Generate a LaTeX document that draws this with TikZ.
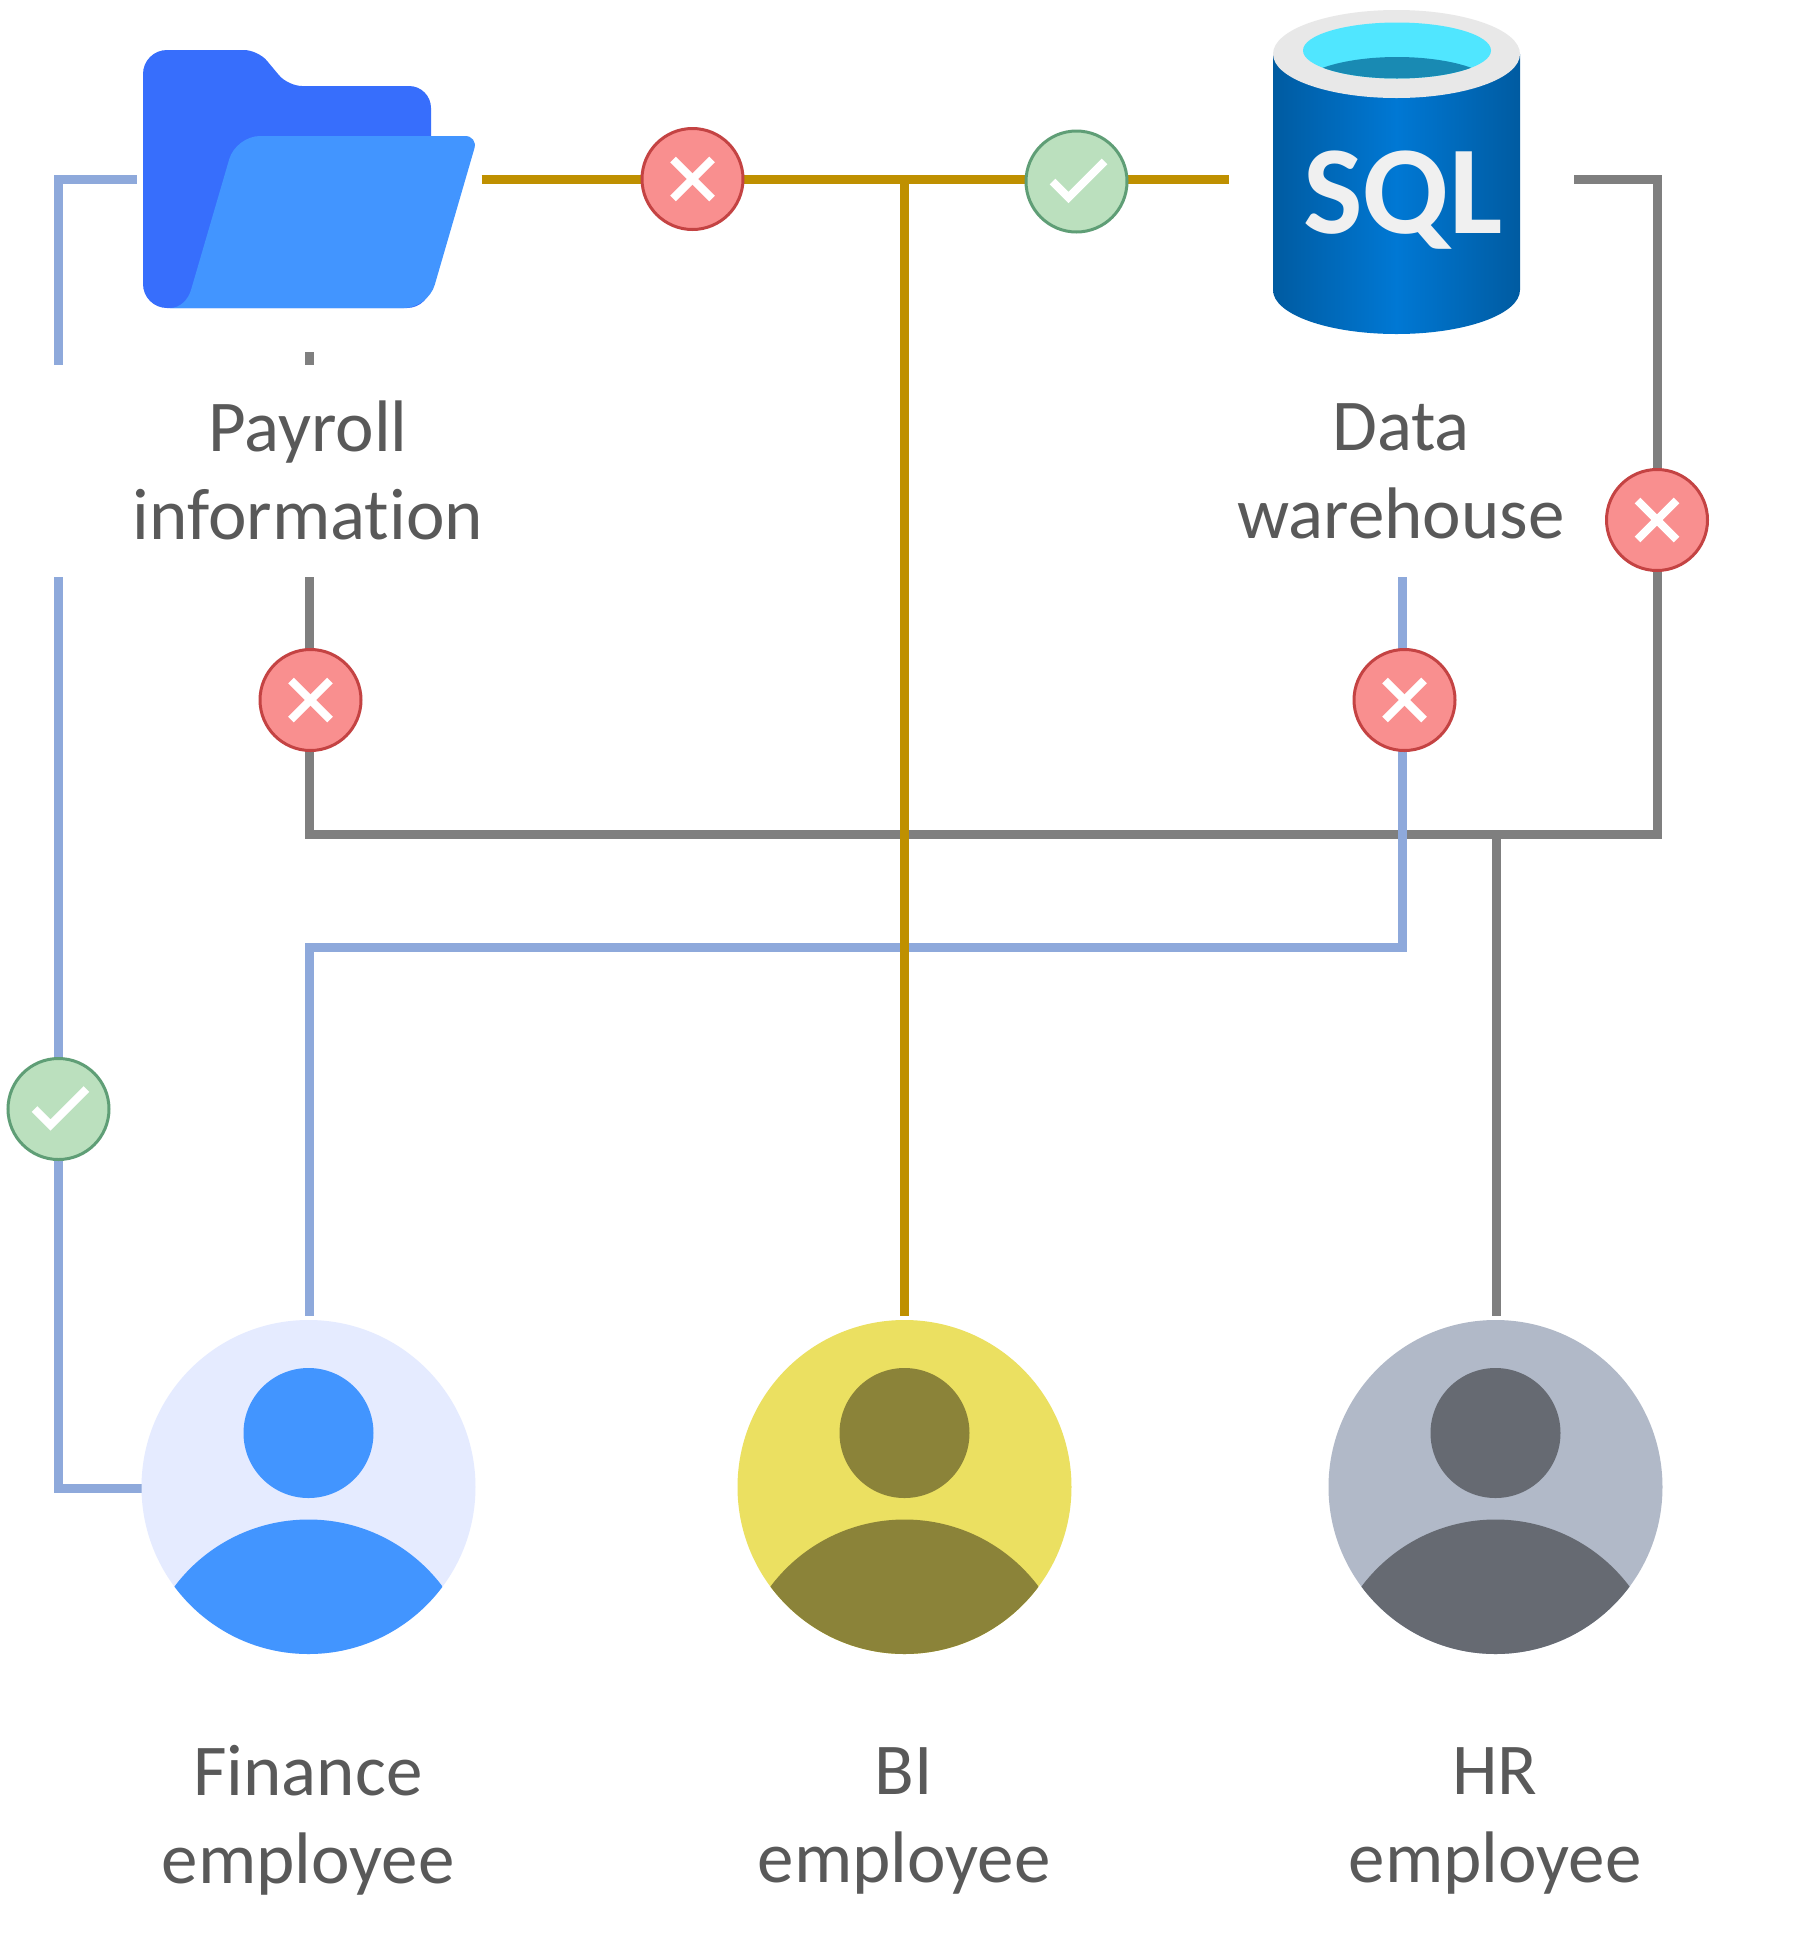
\documentclass[tikz,border=0pt]{standalone}
\usepackage{fontspec}
\setmainfont{Carlito}[Ligatures=NoCommon]
\usetikzlibrary{backgrounds,calc}
\definecolor{txtc}{HTML}{595959}
\definecolor{bluel}{HTML}{8EA9DB}
\definecolor{goldl}{HTML}{BF9000}
\definecolor{greyl}{HTML}{7F7F7F}
\definecolor{foldb}{HTML}{376EFC}
\definecolor{foldf}{HTML}{4295FF}
\definecolor{finbg}{HTML}{E5EBFF}
\definecolor{bibg}{HTML}{EBE061}
\definecolor{bifg}{HTML}{8B8339}
\definecolor{hrbg}{HTML}{B1B9C8}
\definecolor{hrfg}{HTML}{666A72}
\definecolor{redf}{HTML}{F98F8F}
\definecolor{redd}{HTML}{C44343}
\definecolor{grnf}{HTML}{BBE0BE}
\definecolor{grnd}{HTML}{5F9E76}
\definecolor{cyl1}{HTML}{005BA1}
\definecolor{cyl2}{HTML}{0078D4}
\definecolor{rimc}{HTML}{E8E8E8}
\definecolor{sqlc}{HTML}{F0F0F0}
\definecolor{cyan1}{HTML}{50E6FF}
\definecolor{cyan2}{HTML}{198AB3}
\tikzset{
  hit/.style={inner sep=0pt,outer sep=0pt,rectangle},
  hitc/.style={inner sep=0pt,outer sep=0pt,circle,minimum size=342pt},
  badgered/.style={circle,inner sep=0pt,outer sep=0pt,minimum size=101pt,line width=3pt,draw=redd,fill=redf},
  badgegrn/.style={circle,inner sep=0pt,outer sep=0pt,minimum size=101pt,line width=3pt,draw=grnd,fill=grnf},
  lab/.style={inner sep=0pt,outer sep=0pt,align=center,text=txtc,font=\fontsize{73}{88}\selectfont},
  conn/.style={line width=9pt,line join=miter,line cap=butt},
  glyph/.style={white,line width=8pt,line cap=butt,line join=miter}
}
\newcommand{\personicon}[3]{%
  \fill[#2] (#1) circle (167);
  \fill[#3] ($(#1)+(0,-54)$) circle (65);
  \begin{scope}
    \clip (#1) circle (167);
    \fill[#3] ($(#1)+(0,200)$) circle (167.5);
  \end{scope}}
\newcommand{\crossat}[1]{%
  \draw[glyph] ($(#1)+(-19.5,-19.5)$) -- ($(#1)+(19.5,19.5)$);
  \draw[glyph] ($(#1)+(-19.5,19.5)$) -- ($(#1)+(19.5,-19.5)$);}
\newcommand{\tickat}[1]{%
  \draw[glyph] ($(#1)+(-24,0)$) -- ($(#1)+(-8,16)$) -- ($(#1)+(28,-20)$);}
\begin{document}
\begin{tikzpicture}[x=1pt,y=-1pt]
\useasboundingbox (0,0) rectangle (1796,1947);

% hit areas of the icons, which set where the connectors stop
\node[hit,minimum width=345pt,minimum height=345pt] (folder) at (309,179.5) {};
\node[hit,minimum width=345pt,minimum height=100pt] (sql) at (1401.5,179.5) {};
\node[hitc] (fin) at (309,1487) {};
\node[hitc] (bi) at (904,1487) {};
\node[hitc] (hr) at (1496,1487) {};

% free ends and bends
\coordinate (tee) at (904,179.5);
\coordinate (blueA) at (58.5,179.5);
\coordinate (blueB) at (58.5,365);
\coordinate (blueC) at (58.5,577);
\coordinate (blueD) at (58.5,1488);
\coordinate (blueE) at (142,1488);
\coordinate (payA) at (309,365);
\coordinate (payB) at (309,577);
\coordinate (greyL) at (309,834);
\coordinate (greyM) at (1496,834);
\coordinate (greyR) at (1657,834);
\coordinate (greyT) at (1657,179.5);
\coordinate (dwA) at (1402,577);
\coordinate (dwB) at (1402,947);
\coordinate (dwC) at (309,947);

% labels
\node[lab] (lpay) at (308,470.5) {Payroll\\information};
\node[lab] (ldw) at (1401,471.5) {Data\\warehouse};
\node[lab] (lfin) at (308,1820.5) {Finance\\employee};
\node[lab] (lbi) at (904,1820.5) {BI\\employee};
\node[lab] (lhr) at (1495,1820.5) {HR\\employee};

% badges
\node[badgered] (xa) at (692.5,179) {};
\node[badgegrn] (ca) at (1076.5,181.5) {};
\node[badgered] (xb) at (1657,520) {};
\node[badgered] (xc) at (310.5,700) {};
\node[badgered] (xd) at (1404.5,700) {};
\node[badgegrn] (cb) at (58.5,1109) {};
\crossat{xa}\crossat{xb}\crossat{xc}\crossat{xd}
\tickat{ca}\tickat{cb}

% connectors, beneath badges
\begin{scope}[on background layer]
  \fill[white] (0,0) rectangle (1796,1947);
  \draw[conn,greyl] (folder.south) -- (payA);
  \draw[conn,greyl] (payB) -- (greyL) -- (greyR) -- (greyT) -- (sql.east);
  \draw[conn,greyl] (greyM) -- (hr.north);
  \draw[conn,bluel] (folder.west) -- (blueA) -- (blueB);
  \draw[conn,bluel] (blueC) -- (blueD) -- (blueE);
  \draw[conn,bluel] (dwA) -- (dwB) -- (dwC) -- (fin.north);
  \draw[conn,goldl] (folder.east) -- (sql.west);
  \draw[conn,goldl] (tee) -- (bi.north);
\end{scope}

% folder
\fill[foldb] (143,200) [rounded corners=24pt] -- (143,50) [rounded corners=14pt] -- (258,50) -- (288,86) [rounded corners=22pt] -- (431,86) -- (431,200)
  [rounded corners=24pt] -- (431,308) -- (143,308) [sharp corners] -- cycle;
\fill[foldf] (170,308) .. controls (180,308) and (188,300) .. (191,290)
  [rounded corners=24pt] -- (236,136) [rounded corners=13pt] -- (478,136) [rounded corners=24pt] -- (428,308) [sharp corners] -- cycle;

% database
\shade[left color=cyl1,right color=cyl1,middle color=cyl2]
  (1273,54) -- (1273,290) .. controls (1273,314.3) and (1328,334) .. (1396.5,334)
  .. controls (1465,334) and (1520,314.3) .. (1520,290) -- (1520,54) -- cycle;
\fill[rimc] (1396.5,54) ellipse [x radius=123.5,y radius=44];
\fill[cyan1] (1397,50.5) ellipse [x radius=94,y radius=28];
\begin{scope}
  \clip (1397,50.5) ellipse [x radius=94,y radius=28];
  \fill[cyan2] (1397,89.7) ellipse [x radius=100,y radius=32.7];
\end{scope}
\node[inner sep=0pt,outer sep=0pt,anchor=base,text=sqlc,font=\fontsize{126}{126}\selectfont\bfseries] (sqltxt) at (1403,233) {SQL};

% people
\personicon{308.5,1487}{finbg}{foldf}
\personicon{904.5,1487}{bibg}{bifg}
\personicon{1495.5,1487}{hrbg}{hrfg}
\end{tikzpicture}
\end{document}
